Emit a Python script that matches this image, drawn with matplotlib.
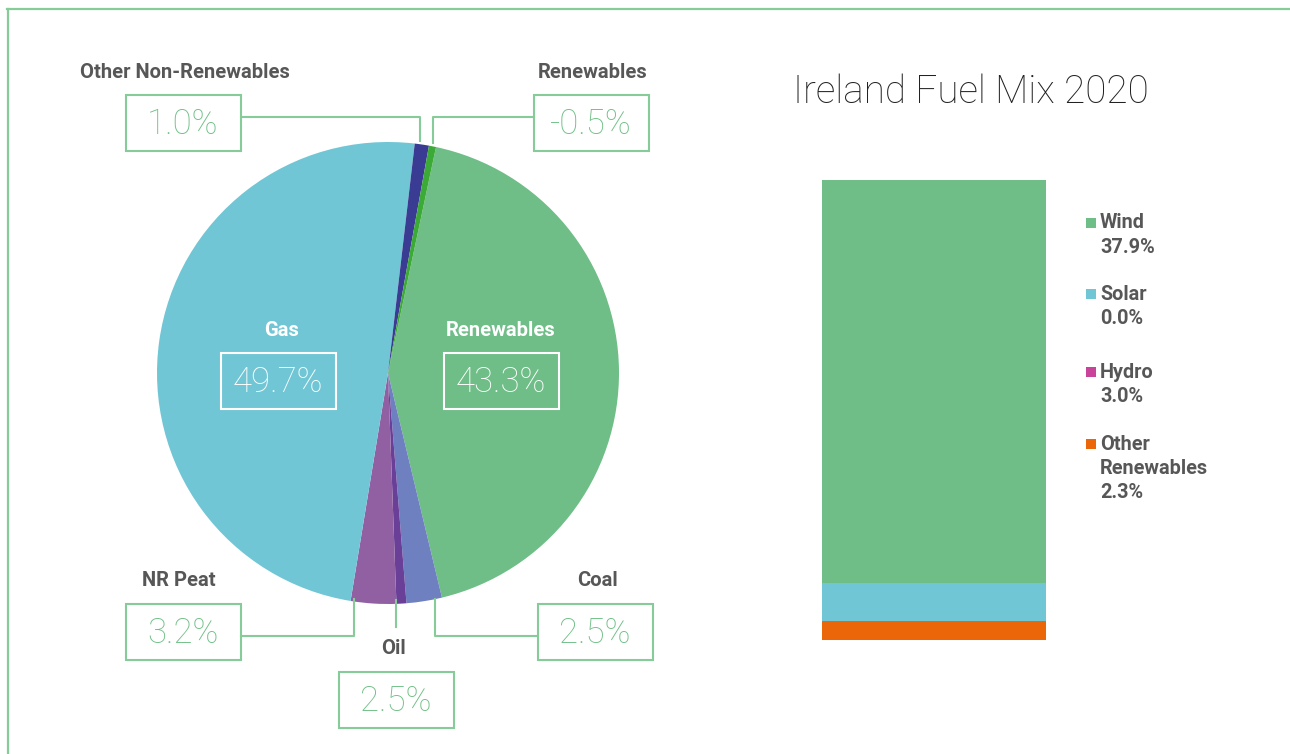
import matplotlib.pyplot as plt
from matplotlib.patches import Rectangle

# pie data (drawn wedge sizes, clockwise from the top-right)
pie_names = ["Renewables", "Coal", "Oil", "NR Peat", "Gas", "Other Non-Renewables", "Renewables (neg)"]
pie_sizes = [43.3, 2.5, 0.7, 3.2, 49.7, 1.0, 0.5]
pie_colors = ["#6fbd87", "#6f80c0", "#6a3f98", "#9160a2", "#71c6d6", "#393c92", "#3caa36"]

# labels shown next to the pie
lab_names = ["Other Non-Renewables", "Renewables", "NR Peat", "Oil", "Coal", "Gas", "Renewables"]
lab_values = ["1.0%", "-0.5%", "3.2%", "2.5%", "2.5%", "49.7%", "43.3%"]

# stacked bar (bottom to top)
bar_names = ["Other Renewables", "Hydro", "Solar", "Wind"]
bar_drawn = [1.8, 0.0, 3.6, 37.9]
bar_colors = ["#ea6608", "#c8449a", "#71c6d6", "#6fbd87"]
legend_names = ["Wind", "Solar", "Hydro", "Other\nRenewables"]
legend_values = ["37.9%", "0.0%", "3.0%", "2.3%"]
legend_colors = ["#6fbd87", "#71c6d6", "#c8449a", "#ea6608"]

W, H = 1290, 754
fig = plt.figure(figsize=(W / 100, H / 100), dpi=100)
fig.patch.set_facecolor("white")
plt.rcParams["font.family"] = ["Roboto", "DejaVu Sans"]

green = "#6fbf86"
grey = "#575757"
edge = "#86cc99"

# pie
cx, cy, r = 388, 373, 231
axp = fig.add_axes([(cx - r) / W, (H - cy - r) / H, 2 * r / W, 2 * r / H])
axp.pie(pie_sizes, colors=pie_colors, startangle=78, counterclock=False,
        radius=1, wedgeprops=dict(linewidth=0))
axp.set_xlim(-1, 1)
axp.set_ylim(-1, 1)
axp.set_aspect("equal")
axp.axis("off")

# stacked bar
axb = fig.add_axes([822 / W, (H - 640) / H, 224 / W, 460 / H])
bottom = 0
for v, c in zip(bar_drawn, bar_colors):
    axb.bar(0, v, width=1, bottom=bottom, color=c, linewidth=0)
    bottom += v
axb.set_xlim(-0.5, 0.5)
axb.set_ylim(0, bottom)
axb.axis("off")

# overlay in pixel coordinates for frame, labels, boxes
ov = fig.add_axes([0, 0, 1, 1], zorder=5)
ov.set_xlim(0, W)
ov.set_ylim(H, 0)
ov.axis("off")
ov.patch.set_alpha(0)

ov.plot([7, W], [9, 9], color=edge, lw=1.6)
ov.plot([8, 8], [9, H], color=edge, lw=1.6)

# (label x, label y, box center x, box center y, label colour, box colour)
spots = [
    (185, 72, 183, 123, grey, edge),
    (593, 72, 591, 123, grey, edge),
    (179, 581, 183, 632, grey, edge),
    (394, 649, 396, 700, grey, edge),
    (597, 581, 595, 632, grey, edge),
    (282, 331, 278, 381, "white", "white"),
    (501, 331, 501, 381, "white", "white"),
]
bw, bh = 115, 56
for (lx, ly, bx, by, lc, bc), name, val in zip(spots, lab_names, lab_values):
    ov.text(lx, ly, name, ha="center", va="center", fontsize=14.5,
            fontweight="bold", color=lc)
    ov.add_patch(Rectangle((bx - bw / 2, by - bh / 2), bw, bh, fill=False,
                           edgecolor=bc, lw=1.5))
    tc = green if bc == edge else "white"
    ov.text(bx, by + 1, val, ha="center", va="center", fontsize=25,
            fontweight="light", color=tc)

# leader lines
ov.plot([241, 420, 420], [117, 117, 141], color=edge, lw=1.5)
ov.plot([534, 433, 433], [117, 117, 143], color=edge, lw=1.5)
ov.plot([241, 354, 354], [636, 636, 599], color=edge, lw=1.5)
ov.plot([396, 396], [600, 627], color=edge, lw=1.5)
ov.plot([435, 435, 537], [599, 636, 636], color=edge, lw=1.5)

# title
ov.text(793, 92, "Ireland Fuel Mix 2020", ha="left", va="center",
        fontsize=27.8, fontweight="light", color="#222222")

# legend
ys = [223, 294, 372, 444]
for y, n, v, c in zip(ys, legend_names, legend_values, legend_colors):
    ov.add_patch(Rectangle((1086, y - 5), 10, 10, color=c, lw=0))
    lines = (n + "\n" + v).split("\n")
    for k, t in enumerate(lines):
        ov.text(1100, y + k * 24.5, t, ha="left", va="center", fontsize=14.3,
                fontweight="bold", color=grey)

fig.savefig("out.png", dpi=100)
